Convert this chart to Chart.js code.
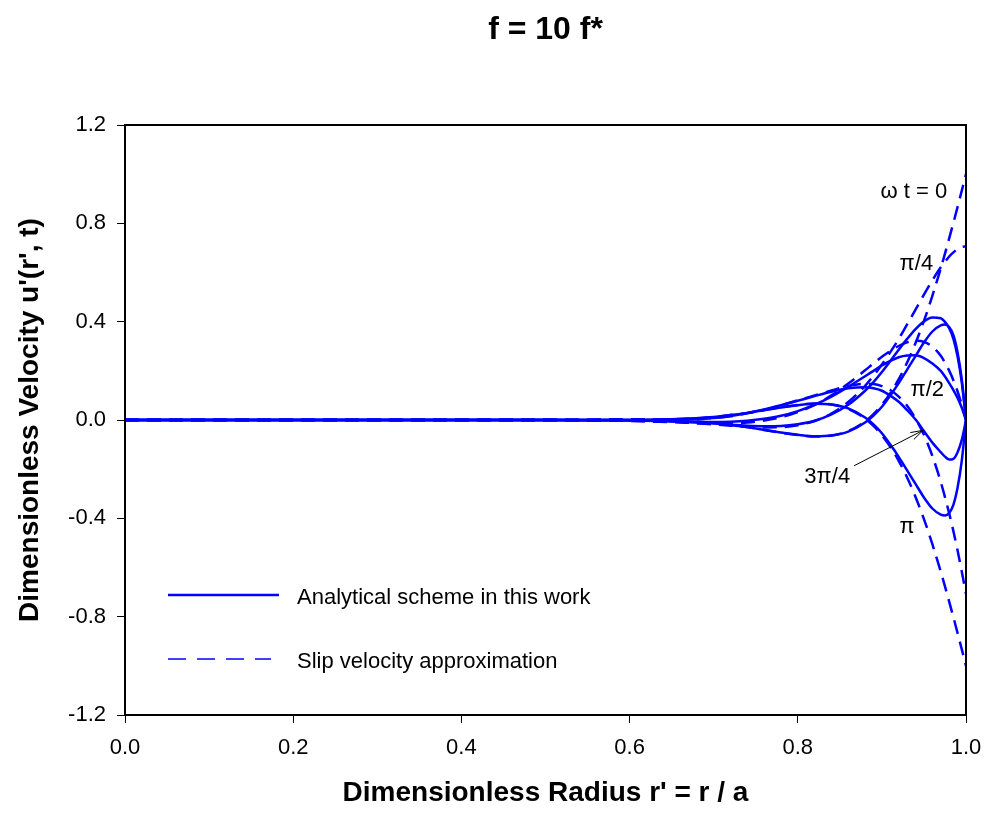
<!DOCTYPE html>
<html lang="en">
<head>
<meta charset="UTF-8">
<title>f = 10 f*</title>
<style>
  body { margin: 0; background: #fff; }
</style>
</head>
<body>
<canvas id="myChart" width="985" height="817"></canvas>

<script src="https://cdn.jsdelivr.net/npm/chart.js@4.4.0/dist/chart.umd.min.js"></script>
<script>
// r' positions shared by all curves
const radius = [0, 0.1, 0.2, 0.3, 0.4, 0.5, 0.6, 0.65, 0.7, 0.72, 0.74, 0.76, 0.78, 0.8, 0.82, 0.84, 0.86, 0.88, 0.89, 0.9, 0.91, 0.92, 0.93, 0.94, 0.95, 0.96, 0.97, 0.975, 0.98, 0.985, 0.99, 0.995, 1.0];

// analytical scheme (solid), one array per phase wt
const solid0    = [0, 0, 0, 0, 0, 0, 0, -0.003, -0.012, -0.02, -0.029, -0.04, -0.051, -0.06, -0.066, -0.063, -0.047, -0.01, 0.018, 0.054, 0.1, 0.15, 0.205, 0.26, 0.315, 0.36, 0.385, 0.388, 0.378, 0.345, 0.275, 0.165, 0];
const solidPi4  = [0, 0, 0, 0, 0, 0, -0.001, -0.006, -0.014, -0.019, -0.023, -0.025, -0.024, -0.017, -0.003, 0.023, 0.062, 0.119, 0.154, 0.195, 0.24, 0.286, 0.33, 0.37, 0.401, 0.417, 0.414, 0.399, 0.373, 0.33, 0.258, 0.152, 0];
const solidPi2  = [0, 0, 0, 0, 0, 0, -0.002, -0.005, -0.008, -0.007, -0.003, 0.005, 0.017, 0.036, 0.062, 0.095, 0.135, 0.178, 0.2, 0.222, 0.24, 0.255, 0.262, 0.263, 0.252, 0.23, 0.2, 0.177, 0.15, 0.122, 0.09, 0.05, 0];
const solid3Pi4 = [0, 0, 0, 0, 0, 0, 0, 0.003, 0.008, 0.016, 0.028, 0.043, 0.06, 0.078, 0.097, 0.115, 0.129, 0.133, 0.129, 0.119, 0.099, 0.074, 0.04, 0.002, -0.045, -0.092, -0.131, -0.149, -0.161, -0.158, -0.131, -0.081, 0];
const solidPi   = [0, 0, 0, 0, 0, 0, 0, 0.003, 0.012, 0.02, 0.029, 0.04, 0.051, 0.06, 0.066, 0.063, 0.047, 0.01, -0.018, -0.054, -0.1, -0.15, -0.205, -0.26, -0.315, -0.36, -0.385, -0.388, -0.378, -0.345, -0.275, -0.165, 0];

// slip velocity approximation (dashed)
const slip0    = [0, 0, 0, 0, 0, 0, 0.003, 0, -0.012, -0.02, -0.029, -0.041, -0.052, -0.061, -0.067, -0.063, -0.045, -0.006, 0.024, 0.062, 0.109, 0.166, 0.234, 0.313, 0.403, 0.505, 0.617, 0.677, 0.739, 0.802, 0.867, 0.933, 1.0];
const slipPi4  = [0, 0, 0, 0, 0, 0, 0, -0.006, -0.018, -0.023, -0.028, -0.03, -0.029, -0.021, -0.004, 0.026, 0.073, 0.139, 0.18, 0.226, 0.276, 0.33, 0.389, 0.449, 0.51, 0.568, 0.621, 0.643, 0.665, 0.682, 0.695, 0.703, 0.707];
const slipPi2  = [0, 0, 0, 0, 0, 0, -0.004, -0.009, -0.014, -0.013, -0.01, -0.002, 0.011, 0.032, 0.061, 0.1, 0.148, 0.202, 0.23, 0.257, 0.281, 0.301, 0.316, 0.322, 0.318, 0.298, 0.261, 0.233, 0.201, 0.162, 0.116, 0.061, 0];
const slip3Pi4 = [0, 0, 0, 0, 0, 0, 0, 0.003, 0.008, 0.015, 0.027, 0.042, 0.06, 0.08, 0.1, 0.12, 0.138, 0.147, 0.146, 0.138, 0.122, 0.095, 0.058, 0.006, -0.06, -0.146, -0.252, -0.314, -0.38, -0.452, -0.531, -0.617, -0.707];
const slipPi   = [0, 0, 0, 0, 0, 0, -0.003, 0, 0.012, 0.02, 0.029, 0.041, 0.052, 0.061, 0.067, 0.063, 0.045, 0.006, -0.024, -0.062, -0.109, -0.166, -0.234, -0.313, -0.403, -0.505, -0.617, -0.677, -0.739, -0.802, -0.867, -0.933, -1.0];

const xTicks = [0, 0.2, 0.4, 0.6, 0.8, 1.0];
const yTicks = [-1.2, -0.8, -0.4, 0, 0.4, 0.8, 1.2];

const titleText = 'f = 10 f*';
const xTitle = "Dimensionless Radius r' = r / a";
const yTitle = "Dimensionless Velocity u'(r', t)";
const legendLabels = ['Analytical scheme in this work', 'Slip velocity approximation'];

// phase labels next to the curves (data units)
const phaseNotes = [
    { text: 'ω t = 0', x: 0.938, y: 0.928 },
    { text: 'π/4', x: 0.941, y: 0.635 },
    { text: 'π/2', x: 0.954, y: 0.122 },
    { text: '3π/4', x: 0.835, y: -0.232 },
    { text: 'π', x: 0.930, y: -0.435 }
];
const arrowFrom = { x: 0.867, y: -0.186 };
const arrowTo = { x: 0.949, y: -0.042 };

const FONT = '"Liberation Sans", Arial, Helvetica, sans-serif';
const BLUE = '#0000ff';
const DASH = [14, 8];

function toPoints(vals) {
    return radius.map((r, i) => ({ x: r, y: vals[i] }));
}

function curve(vals, dashed) {
    return {
        data: toPoints(vals),
        borderColor: BLUE,
        borderWidth: 2.5,
        borderDash: dashed ? DASH : [],
        pointRadius: 0,
        showLine: true,
        fill: false,
        cubicInterpolationMode: 'monotone'
    };
}

const datasets = [
    curve(slip0, true), curve(slipPi4, true), curve(slipPi2, true), curve(slip3Pi4, true), curve(slipPi, true),
    curve(solid0, false), curve(solidPi4, false), curve(solidPi2, false), curve(solid3Pi4, false), curve(solidPi, false)
];

// frame, title, phase labels, arrow and legend
const extras = {
    id: 'extras',
    afterDraw(chart) {
        const { ctx, chartArea: a, scales: { x, y } } = chart;
        ctx.save();
        ctx.strokeStyle = '#000';
        ctx.lineWidth = 2;
        ctx.strokeRect(a.left, a.top, a.right - a.left, a.bottom - a.top);

        ctx.fillStyle = '#000';
        ctx.textAlign = 'center';
        ctx.textBaseline = 'middle';
        ctx.font = 'bold 32px ' + FONT;
        ctx.fillText(titleText, (a.left + a.right) / 2, 30);

        ctx.font = '22px ' + FONT;
        phaseNotes.forEach(n => {
            ctx.fillText(n.text, x.getPixelForValue(n.x), y.getPixelForValue(n.y));
        });

        // arrow to the 3pi/4 curve
        const x1 = x.getPixelForValue(arrowFrom.x), y1 = y.getPixelForValue(arrowFrom.y);
        const x2 = x.getPixelForValue(arrowTo.x), y2 = y.getPixelForValue(arrowTo.y);
        const ang = Math.atan2(y2 - y1, x2 - x1);
        ctx.lineWidth = 1;
        ctx.beginPath();
        ctx.moveTo(x1, y1);
        ctx.lineTo(x2, y2);
        ctx.moveTo(x2 - 13 * Math.cos(ang - 0.3), y2 - 13 * Math.sin(ang - 0.3));
        ctx.lineTo(x2, y2);
        ctx.lineTo(x2 - 13 * Math.cos(ang + 0.3), y2 - 13 * Math.sin(ang + 0.3));
        ctx.stroke();

        // legend
        const lx0 = a.left + 43, lx1 = a.left + 154, tx = a.left + 172;
        const rows = [a.top + 470, a.top + 534];
        ctx.strokeStyle = BLUE;
        legendLabels.forEach((lab, i) => {
            ctx.lineWidth = i === 0 ? 2.5 : 1.5;
            ctx.setLineDash(i === 0 ? [] : [18, 11]);
            ctx.beginPath();
            ctx.moveTo(lx0, rows[i]);
            ctx.lineTo(i === 0 ? lx1 : lx1 - 8, rows[i]);
            ctx.stroke();
            ctx.setLineDash([]);
            ctx.textAlign = 'left';
            ctx.font = '22px ' + FONT;
            ctx.fillText(lab, tx, rows[i] + 3);
        });
        ctx.restore();
    }
};

function fmt(v) {
    return Math.abs(v) < 1e-9 ? '0.0' : v.toFixed(1);
}

new Chart(document.getElementById('myChart'), {
    type: 'scatter',
    data: { datasets: datasets },
    plugins: [extras],
    options: {
        responsive: false,
        animation: false,
        devicePixelRatio: 1,
        layout: { padding: { top: 125, right: 19, left: 0, bottom: 0 } },
        plugins: { legend: { display: false }, tooltip: { enabled: false } },
        scales: {
            x: {
                type: 'linear', min: 0, max: 1,
                afterBuildTicks: s => { s.ticks = xTicks.map(v => ({ value: v })); },
                afterFit: s => { s.height = 102; s.paddingLeft = 0; s.paddingRight = 0; },
                ticks: { callback: fmt, color: '#000', font: { family: FONT, size: 22 }, padding: 12, maxRotation: 0 },
                grid: { drawOnChartArea: false, tickLength: 8, tickColor: '#000', tickWidth: 1 },
                border: { color: '#000', width: 2 },
                title: { display: true, text: xTitle, color: '#000', font: { family: FONT, size: 28, weight: 'bold' }, padding: { top: 14, bottom: 7 } }
            },
            y: {
                type: 'linear', min: -1.2, max: 1.2,
                afterBuildTicks: s => { s.ticks = yTicks.map(v => ({ value: v })); },
                afterFit: s => { s.width = 125; },
                ticks: { callback: fmt, color: '#000', font: { family: FONT, size: 22 }, padding: 11 },
                grid: { drawOnChartArea: false, tickLength: 8, tickColor: '#000', tickWidth: 1 },
                border: { color: '#000', width: 2 },
                title: { display: true, text: yTitle, color: '#000', font: { family: FONT, size: 28, weight: 'bold' }, padding: { top: 13, bottom: 0 } }
            }
        }
    }
});
</script>
</body>
</html>
